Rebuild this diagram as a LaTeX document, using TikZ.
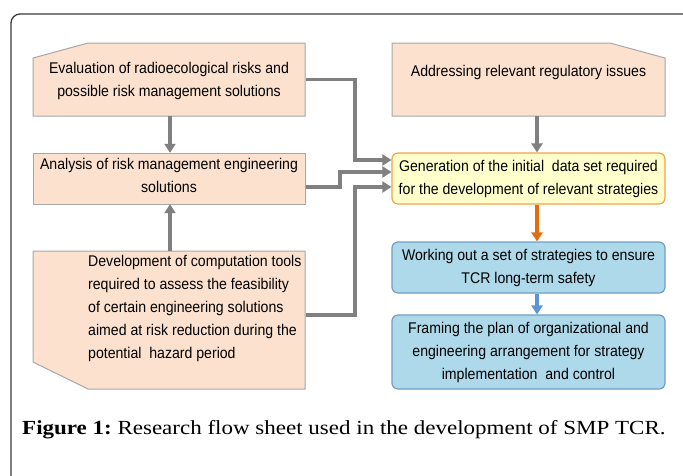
\documentclass[tikz,border=0pt]{standalone}
\usepackage{fontspec}
\usetikzlibrary{arrows.meta,calc}
\newfontfamily\boxfont[FakeStretch=0.91]{Liberation Sans}
\newfontfamily\capfont[FakeStretch=1.15]{Liberation Serif}
\definecolor{peach}{HTML}{FBE1CE}
\definecolor{peachline}{HTML}{A8A8A8}
\definecolor{arrgray}{HTML}{808080}
\definecolor{yel}{HTML}{FFFFCC}
\definecolor{yelline}{HTML}{F2A24A}
\definecolor{blu}{HTML}{AED9EA}
\definecolor{bluline}{HTML}{6F9FC6}
\definecolor{orng}{HTML}{E46C0A}
\definecolor{bluarr}{HTML}{5B95D6}
\definecolor{frame}{HTML}{3A3A3A}
\tikzset{
  boxtext/.style={font=\boxfont\fontsize{15.5}{23}\selectfont, align=center, inner sep=0pt},
  boxnode/.style={minimum width=273pt, inner sep=0pt, draw=none},
  peachshape/.style={fill=peach, draw=peachline, line width=1pt},
  roundyel/.style={boxnode, rounded corners=6pt, fill=yel, draw=yelline, line width=1.2pt},
  roundblu/.style={boxnode, rounded corners=6pt, fill=blu, draw=bluline, line width=1.2pt},
  garr/.style={draw=arrgray, line width=3.5pt, -{Triangle[length=9pt,width=11pt]}},
  oarr/.style={draw=orng, line width=3.5pt, -{Triangle[length=9pt,width=11pt]}},
  barr/.style={draw=bluarr, line width=3.5pt, -{Triangle[length=9pt,width=11pt]}}
}
\begin{document}
\begin{tikzpicture}[x=1pt,y=-1pt]
\useasboundingbox (0,0) rectangle (683,475);
\clip (0,0) rectangle (683,475);
\fill[white] (0,0) rectangle (683,475);
\draw[frame, line width=1.3pt, rounded corners=9pt] (11,14) rectangle (720,520);

% coordinates for connector routing
\coordinate (lx) at (170,0);
\coordinate (rx) at (537,0);
\coordinate (vx) at (355,0);
\coordinate (sx) at (340,0);
\coordinate (y1) at (0,160);
\coordinate (y2) at (0,172);
\coordinate (y3) at (0,187);
\coordinate (y4) at (0,315);

% left column boxes
\node[boxnode, minimum height=73pt] (b1) at (169,79.5) {};
\path[peachshape] (33,58) -- (88,43) -- (305,43) -- (305,116) -- (33,116) -- cycle;
\node[boxtext] (b1t) at (169,80.5) {Evaluation of radioecological risks and\\possible risk management solutions};

\node[boxnode, minimum height=51pt] (b2) at (169,178.5) {};
\path[peachshape] (33,153) rectangle (305,204);
\node[boxtext] (b2t) at (169,175.5) {Analysis of risk management engineering\\solutions};

\node[boxnode, minimum height=138pt] (b3) at (169,320) {};
\path[peachshape] (33,251) -- (305,251) -- (305,389) -- (88,389) -- (33,362) -- cycle;
\node[boxtext, align=left, anchor=north west] (b3t) at (88,255) {Development of computation tools\\required to assess the feasibility\\of certain engineering solutions\\aimed at risk reduction during the\\potential\ \ hazard period};

% right column boxes
\node[boxnode, minimum height=73pt] (b4) at (528.5,79.5) {};
\path[peachshape] (392,43) -- (610,43) -- (665,58) -- (665,116) -- (392,116) -- cycle;
\node[boxtext] (b4t) at (528.5,72.5) {Addressing relevant regulatory issues};

\node[roundyel, minimum height=51pt, boxtext] (b5) at (528.5,178.5) {Generation of the initial\ \ data set required\\for the development of relevant strategies};

\node[roundblu, minimum height=51pt, boxtext] (b6) at (528.5,267.5) {Working out a set of strategies to ensure\\TCR long-term safety};

\node[roundblu, minimum height=74pt, boxtext] (b7) at (528.5,352) {Framing the plan of organizational and\\engineering arrangement for strategy\\implementation\ \ and control};

% connectors
\draw[garr] (b1.south -| lx) -- (b2.north -| lx);
\draw[garr] (b3.north -| lx) -- (b2.south -| lx);
\draw[garr] (b4.south -| rx) -- (b5.north -| rx);
\draw[garr] (b1.east) -| (vx |- y1) -- (b5.west |- y1);
\draw[garr] (b2.east |- y3) -| (sx |- y2) -- (b5.west |- y2);
\draw[garr] (b3.east |- y4) -| (vx |- y3) -- (b5.west |- y3);
\draw[oarr] (b5.south -| rx) -- (b6.north -| rx);
\draw[barr] (b6.south -| rx) -- (b7.north -| rx);

% caption
\node[anchor=base west, inner sep=0pt, font=\capfont\fontsize{20}{24}\selectfont] (cap) at (22,434) {\textbf{Figure 1:}\hspace{-2pt} Research flow sheet used in the development of SMP TCR.};
\end{tikzpicture}
\end{document}
